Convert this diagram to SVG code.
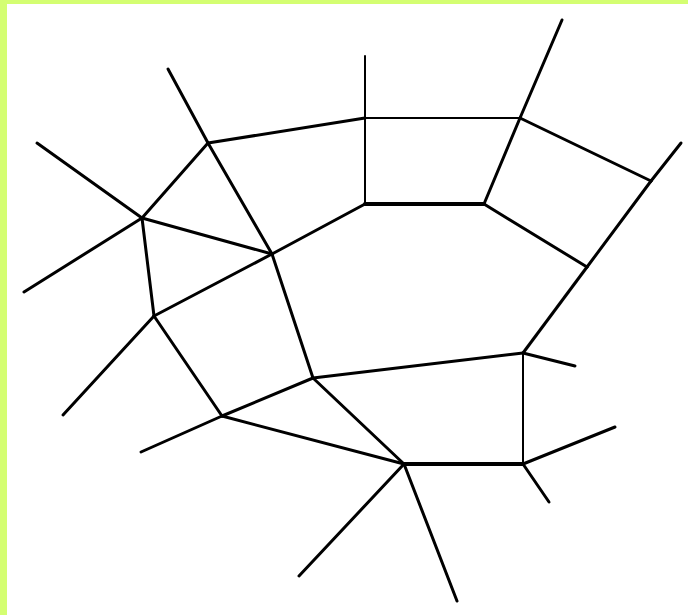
<svg xmlns="http://www.w3.org/2000/svg" width="688" height="615" viewBox="0 0 688 615">
<style>
.e{stroke:#000;stroke-width:3;stroke-linecap:round;fill:none}
.t{stroke-width:2}
.k{stroke-width:4}
</style>
<rect x="0" y="0" width="688" height="615" fill="#fff"/>
<rect x="0" y="0" width="688" height="4" fill="#d4fe72"/>
<rect x="0" y="0" width="7" height="615" fill="#d4fe72"/>
<g id="connectors">
<line class="e" x1="208" y1="143" x2="168" y2="69"/>
<line class="e" x1="208" y1="143" x2="365" y2="118"/>
<line class="e" x1="208" y1="143" x2="142" y2="218"/>
<line class="e" x1="208" y1="143" x2="272" y2="254"/>
<line class="e" x1="142" y1="218" x2="37" y2="143"/>
<line class="e" x1="142" y1="218" x2="24" y2="292"/>
<line class="e" x1="142" y1="218" x2="272" y2="254"/>
<line class="e" x1="142" y1="218" x2="154" y2="316"/>
<line class="e" x1="272" y1="254" x2="365" y2="204"/>
<line class="e" x1="272" y1="254" x2="154" y2="316"/>
<line class="e" x1="272" y1="254" x2="313" y2="378"/>
<line class="e t" x1="365" y1="118" x2="365" y2="56"/>
<line class="e t" x1="365" y1="118" x2="520" y2="118"/>
<line class="e t" x1="365" y1="118" x2="365" y2="204"/>
<line class="e k" x1="365" y1="204" x2="484" y2="204"/>
<line class="e" x1="520" y1="118" x2="562" y2="20"/>
<line class="e" x1="520" y1="118" x2="484" y2="204"/>
<line class="e" x1="520" y1="118" x2="651" y2="181"/>
<line class="e" x1="651" y1="181" x2="681" y2="143"/>
<line class="e" x1="651" y1="181" x2="587" y2="267"/>
<line class="e" x1="484" y1="204" x2="587" y2="267"/>
<line class="e" x1="587" y1="267" x2="523" y2="353"/>
<line class="e" x1="523" y1="353" x2="575" y2="366"/>
<line class="e" x1="523" y1="353" x2="313" y2="378"/>
<line class="e t" x1="523" y1="353" x2="523" y2="464"/>
<line class="e" x1="523" y1="464" x2="615" y2="427"/>
<line class="e" x1="523" y1="464" x2="549" y2="502"/>
<line class="e k" x1="523" y1="464" x2="404" y2="464"/>
<line class="e" x1="154" y1="316" x2="63" y2="415"/>
<line class="e" x1="154" y1="316" x2="222" y2="416"/>
<line class="e" x1="222" y1="416" x2="141" y2="452"/>
<line class="e" x1="222" y1="416" x2="313" y2="378"/>
<line class="e" x1="222" y1="416" x2="404" y2="464"/>
<line class="e" x1="313" y1="378" x2="404" y2="464"/>
<line class="e" x1="404" y1="464" x2="299" y2="576"/>
<line class="e" x1="404" y1="464" x2="457" y2="601"/>
</g>
</svg>
